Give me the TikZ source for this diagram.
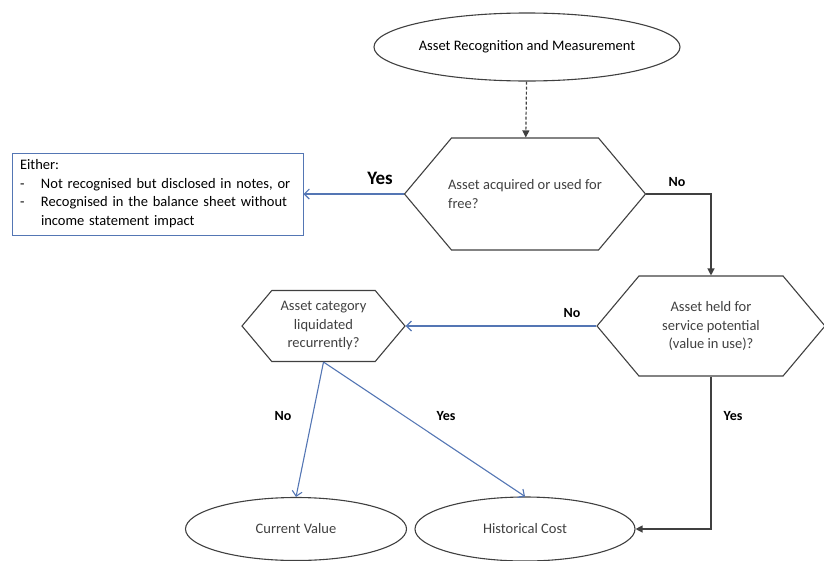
\documentclass[tikz,border=0pt]{standalone}
\usepackage{fontspec}
\setmainfont{Carlito}
\usetikzlibrary{shapes.geometric,shapes.symbols,arrows.meta}
\definecolor{lineblue}{RGB}{84,118,180}
\definecolor{shapegray}{RGB}{64,64,64}
\tikzset{
  hexa/.style={signal, signal to=west and east, signal pointer angle=100,
    draw=shapegray, line width=1.1pt, text=shapegray, align=center, inner sep=0pt},
  oval/.style={ellipse, draw=shapegray, line width=1.1pt, inner sep=0pt},
  lbl/.style={font=\fontsize{14}{16}\selectfont\bfseries},
  blueline/.style={draw=lineblue, line width=1.1pt, -{Straight Barb[length=5pt,width=10pt]}},
  blackline/.style={draw=shapegray, line width=1.2pt, -{Triangle[length=7pt,width=7pt]}},
}

\begin{document}
\begin{tikzpicture}[x=1pt,y=-1pt, every node/.style={font=\fontsize{14.5}{18.5}\selectfont}]
\useasboundingbox (0,0) rectangle (824,560);

\node[oval, minimum width=262pt, minimum height=68pt] (recog) at (527,47) {Asset Recognition and Measurement};
\node[hexa, minimum width=241pt, minimum height=112pt, inner xsep=-9pt, align=left] (free) at (525,194) {Asset acquired or used for\\free?};
\node[draw=lineblue, line width=1pt, minimum height=82pt, text width=275pt, inner xsep=8pt, inner ysep=0pt] (either) at (157.5,194)
  {\begin{tabular}{@{}p{21pt}@{}l@{}}
   \multicolumn{2}{@{}l}{Either:}\\
   -&Not recognised but disclosed in notes, or\\
   -&Recognised in the balance sheet without\\
   &income statement impact
   \end{tabular}};
\node[hexa, minimum width=228pt, minimum height=100pt] (service) at (711,326) {Asset held for\\service potential\\(value in use)?};
\node[hexa, minimum width=163pt, minimum height=71pt] (liquid) at (323.5,326) {Asset category\\liquidated\\recurrently?};
\node[oval, minimum width=221pt, minimum height=63pt, text=shapegray] (current) at (296,529) {Current Value};
\node[oval, minimum width=220pt, minimum height=64pt, text=shapegray] (histcost) at (525,529) {Historical Cost};

\draw[blackline, dash pattern=on 3pt off 2pt] (recog) -- (free);
\draw[blueline] (free.west) -- (either.east);
\draw[blackline] (free.east) -| (service.north);
\draw[blueline] (service.west) -- (liquid.east);
\draw[blueline] (liquid.south) -- (current.north);
\draw[blueline] (liquid.south) -- (histcost.north);
\draw[blackline] (service.south) |- (histcost.east);

\node[lbl, font=\fontsize{19}{21}\selectfont\bfseries] (yes1) at (380,178) {Yes};
\node[lbl] (no1) at (677,182) {No};
\node[lbl] (no2) at (572,313) {No};
\node[lbl] (no3) at (283,416) {No};
\node[lbl] (yes2) at (446,416) {Yes};
\node[lbl] (yes3) at (733,416) {Yes};
\end{tikzpicture}
\end{document}
